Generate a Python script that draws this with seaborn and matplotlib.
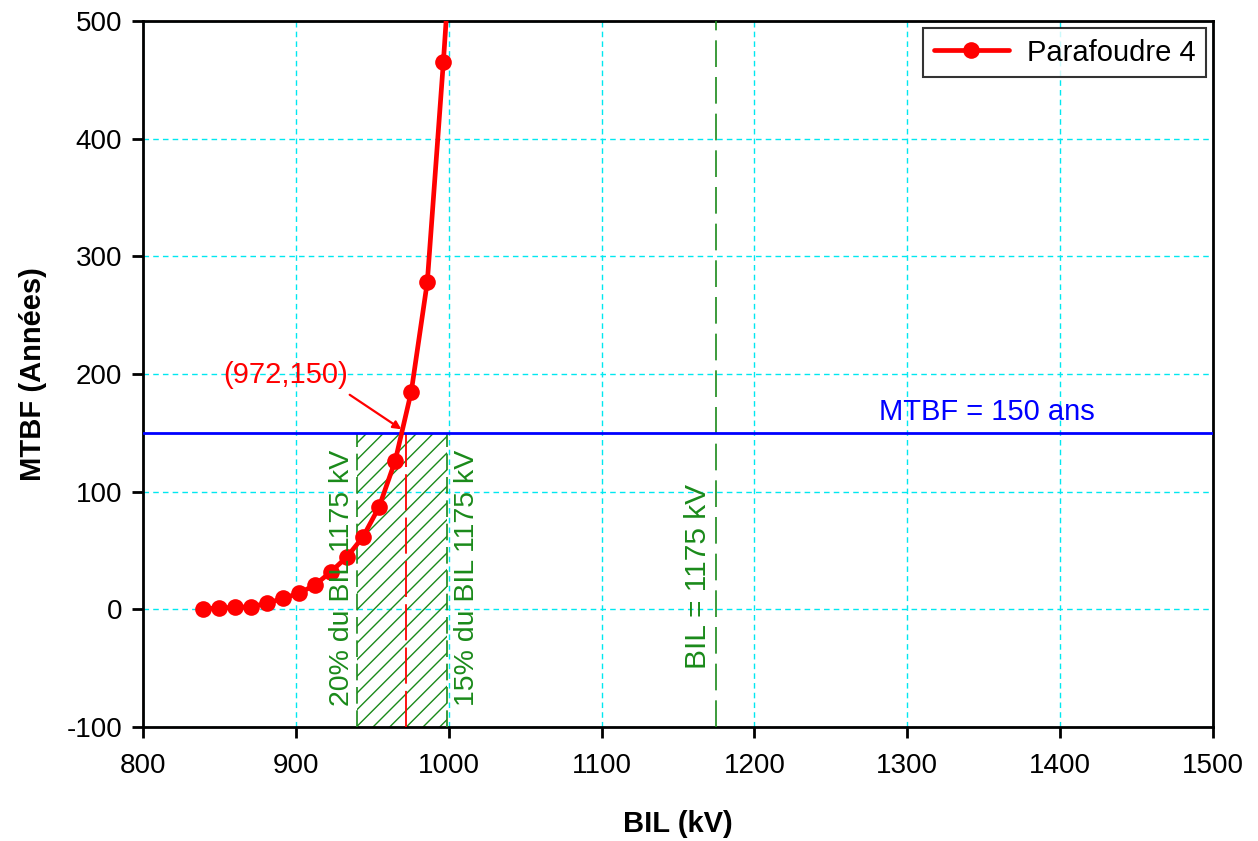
import matplotlib
matplotlib.use("Agg")
import matplotlib.pyplot as plt
import numpy as np
import pandas as pd
import seaborn as sns

# MTBF curve of surge arrester no. 4 versus insulation level
bil_kv = [839, 849.5, 860, 870.5, 881, 891.5, 902, 912.5, 923, 933.5,
          944, 954.5, 965, 975.5, 986, 996.5, 1007]
mtbf_years = [0.5, 1.1, 1.7, 2.2, 5.1, 9.3, 13.6, 20.7, 32, 44.7,
              61.7, 87.2, 126.3, 185, 278.4, 465.3, 670]
series_name = "Parafoudre 4"

bil_nominal = 1175
mtbf_target = 150
bil_at_target = 972
margin_low = 0.80   # 20 % below the nominal BIL
margin_high = 0.85  # 15 % below the nominal BIL

x_ticks = [800, 900, 1000, 1100, 1200, 1300, 1400, 1500]
y_ticks = [-100, 0, 100, 200, 300, 400, 500]

df = pd.DataFrame({"BIL": bil_kv, "MTBF": mtbf_years, "serie": series_name})

sns.set_style("ticks")
plt.rcParams["font.family"] = ["Liberation Sans", "DejaVu Sans"]
plt.rcParams["axes.unicode_minus"] = False

green = "#1a8a1a"
plt.rcParams["hatch.color"] = green
plt.rcParams["hatch.linewidth"] = 1.0

fig = plt.figure(figsize=(12.58, 8.41), dpi=100)
ax = fig.add_axes([0.1137, 0.1356, 0.8505, 0.8394])

ax.set_xlim(x_ticks[0], x_ticks[-1])
ax.set_ylim(y_ticks[0], y_ticks[-1])
ax.set_xticks(x_ticks)
ax.set_yticks(y_ticks)
ax.grid(True, color="#00e8f0", linestyle=(0, (4, 3)), linewidth=1.0)
ax.set_axisbelow(True)

x_low = bil_nominal * margin_low
x_high = bil_nominal * margin_high

# hatched acceptance band below the target MTBF
ax.fill_between([x_low, x_high], y_ticks[0], mtbf_target,
                facecolor="none", edgecolor=green, hatch="//", linewidth=0, zorder=2)
for xv in (x_low, x_high):
    ax.plot([xv, xv], [y_ticks[0], mtbf_target], color=green, lw=1.2,
            linestyle=(0, (10, 4)), zorder=3)

# nominal BIL
ax.axvline(bil_nominal, color=green, lw=1.2, linestyle=(0, (16, 6)), zorder=3)

# target MTBF
ax.axhline(mtbf_target, color="#0000ff", lw=2.0, zorder=4)

# BIL reached at the target MTBF
ax.plot([bil_at_target, bil_at_target], [y_ticks[0], mtbf_target], color="red",
        lw=1.3, linestyle=(0, (20, 4)), zorder=3)

sns.lineplot(data=df, x="BIL", y="MTBF", hue="serie", palette=["#ff0000"],
             marker="o", markersize=12, markeredgewidth=0, linewidth=3.4,
             ax=ax, zorder=5)

ax.annotate(f"({bil_at_target},{mtbf_target})",
            xy=(bil_at_target - 3, mtbf_target + 3), xytext=(893, 199),
            ha="center", va="center", color="red", fontsize=21,
            arrowprops=dict(arrowstyle="-|>", color="red", lw=1.6,
                            mutation_scale=12, shrinkA=3, shrinkB=0,
                            relpos=(0.95, 0.0)),
            zorder=6)

ax.text(1352, 156, f"MTBF = {mtbf_target} ans", color="#0000ff", fontsize=21,
        ha="center", va="bottom", zorder=6)
ax.text(930, 27, f"20% du BIL {bil_nominal} kV", color=green, fontsize=20.5,
        rotation=90, ha="center", va="center", zorder=6)
ax.text(1012, 27, f"15% du BIL {bil_nominal} kV", color=green, fontsize=20.5,
        rotation=90, ha="center", va="center", zorder=6)
ax.text(1163, 28, f"BIL = {bil_nominal} kV", color=green, fontsize=21.5,
        rotation=90, ha="center", va="center", zorder=6)

ax.set_xlabel("BIL (kV)", fontsize=21, fontweight="bold", labelpad=22, color="black")
ax.set_ylabel("MTBF (Années)", fontsize=21, fontweight="bold", labelpad=14, color="black")
ax.tick_params(axis="both", direction="out", length=8, width=2,
               labelsize=20, colors="black")
ax.tick_params(axis="x", pad=11)
ax.tick_params(axis="y", pad=7)
for s in ax.spines.values():
    s.set_linewidth(2)
    s.set_color("black")
    s.set_visible(True)

leg = ax.legend(loc="upper right", fontsize=21, frameon=True, fancybox=False,
                edgecolor="black", borderaxespad=0.25, handlelength=2.6,
                borderpad=0.35, handletextpad=0.6)
leg.get_frame().set_linewidth(1.5)
for t in leg.get_texts():
    t.set_color("black")

fig.savefig("out.png", dpi=100)
